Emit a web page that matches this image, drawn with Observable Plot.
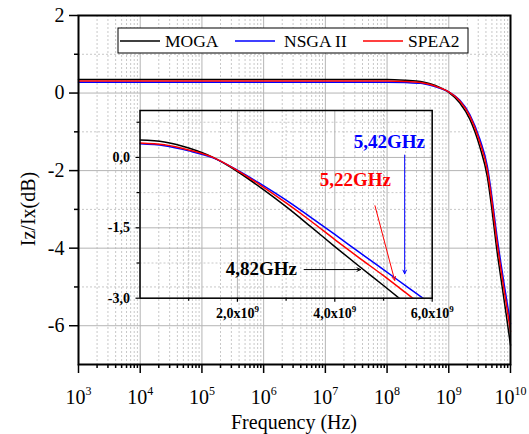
<!DOCTYPE html>
<html><head><meta charset="utf-8">
<script src="https://cdn.jsdelivr.net/npm/d3@7"></script>
<script src="https://cdn.jsdelivr.net/npm/@observablehq/plot@0.6"></script>
<style>
html,body{margin:0;padding:0;background:#fff;}
#wrap{position:relative;width:529px;height:434px;overflow:hidden;background:#fff;}
#wrap svg{position:absolute;overflow:visible;}
</style></head><body><div id="wrap"></div>
<script>
// ---------- data ----------
const seriesNames = ["MOGA", "NSGA II", "SPEA2"];
const seriesColors = ["#000000", "#0000ff", "#ff0000"];

// main chart (log frequency axis)
const freqMain = [1e3, 1e4, 1e5, 1e6, 1e7, 1e8, 2e8, 3.5e8, 5e8, 7e8, 1e9, 1.5e9, 2.2e9, 3.2e9, 4.2e9, 5e9, 5.9e9, 7e9, 8.5e9, 1e10];
const mogaMain = [0.35, 0.35, 0.35, 0.35, 0.35, 0.35, 0.33, 0.30, 0.24, 0.15, 0.02, -0.25, -0.68, -1.40, -2.15, -3.00, -3.95, -4.78, -5.70, -6.50];
const nsgaMain = [0.28, 0.28, 0.28, 0.28, 0.28, 0.28, 0.27, 0.25, 0.20, 0.13, 0.03, -0.18, -0.56, -1.20, -1.88, -2.68, -3.58, -4.40, -5.25, -5.95];
const speaMain = [0.31, 0.31, 0.31, 0.31, 0.31, 0.31, 0.30, 0.27, 0.22, 0.14, 0.03, -0.20, -0.60, -1.28, -1.98, -2.80, -3.72, -4.55, -5.42, -6.15];

// inset (linear frequency axis)
const freqInset = [0, 0.5e9, 1e9, 1.5e9, 2e9, 2.5e9, 3e9, 3.5e9, 4e9, 4.5e9, 5e9, 5.5e9, 6e9];
const mogaInset = [0.37, 0.33, 0.20, 0.00, -0.30, -0.66, -1.05, -1.47, -1.90, -2.32, -2.73, -3.15, -3.57];
const nsgaInset = [0.29, 0.25, 0.14, -0.01, -0.27, -0.58, -0.91, -1.27, -1.64, -2.02, -2.39, -2.77, -3.14];
const speaInset = [0.31, 0.27, 0.16, 0.00, -0.28, -0.61, -0.97, -1.35, -1.75, -2.14, -2.52, -2.92, -3.32];

// ticks
const mainXTicks = [1e3, 1e4, 1e5, 1e6, 1e7, 1e8, 1e9, 1e10];
const mainYTicks = [2, 0, -2, -4, -6];
const mainYMinor = [1, -1, -3, -5];
const insetXTicks = [2e9, 4e9, 6e9];
const insetXMinor = [1e9, 3e9, 5e9];
const insetYTicks = [0, -1.5, -3];
const insetYMinor = [0.75, -0.75, -2.25];

// annotations in the inset (data units)
const annotText = ["5,42GHz", "5,22GHz", "4,82GHz"];
const annotColor = ["#0000ff", "#ff0000", "#000000"];
const annotTextX = [4.39e9, 3.69e9, 1.76e9];
const annotTextY = [0.33, -0.48, -2.37];
const arrowX1 = [5.435e9, 4.825e9, 3.37e9];
const arrowY1 = [0.05, -1.03, -2.39];
const arrowX2 = [5.435e9, 5.23e9, 4.53e9];
const arrowY2 = [-2.48, -2.62, -2.39];

// ---------- build ----------
const serif = "'Liberation Serif','Times New Roman',serif";
const mainXMinor = [];
for (let e = 3; e < 10; e++) for (let k = 2; k <= 9; k++) mainXMinor.push(k * Math.pow(10, e));

const rows = (xs, ys, s) => xs.map((x, i) => ({x, y: ys[i], s}));
const mainData = [
  ...rows(freqMain, mogaMain, seriesNames[0]),
  ...rows(freqMain, nsgaMain, seriesNames[1]),
  ...rows(freqMain, speaMain, seriesNames[2])
];
const insetData = [
  ...rows(freqInset, mogaInset, seriesNames[0]),
  ...rows(freqInset, nsgaInset, seriesNames[1]),
  ...rows(freqInset, speaInset, seriesNames[2])
];
const annots = annotText.map((t, i) => ({t, c: annotColor[i], x: annotTextX[i], y: annotTextY[i]}));
const arrows = arrowX1.map((x1, i) => ({x1, y1: arrowY1[i], x2: arrowX2[i], y2: arrowY2[i], c: annotColor[i]}));

const majorGrid = {stroke: "#b4b4b4", strokeOpacity: 1, strokeWidth: 1};
const minorGrid = {stroke: "#c8c8c8", strokeOpacity: 1, strokeWidth: 1, strokeDasharray: "2,2"};

const main = Plot.plot({
  width: 529, height: 434,
  marginLeft: 78, marginRight: 19, marginTop: 15, marginBottom: 70,
  style: {fontFamily: serif, fontSize: "20px", background: "transparent", color: "#000", overflow: "visible"},
  x: {type: "log", domain: [1e3, 1e10], label: null},
  y: {domain: [-7, 2], label: null},
  color: {domain: seriesNames, range: seriesColors},
  marks: [
    Plot.gridX(mainXMinor, minorGrid),
    Plot.gridY(mainYMinor, minorGrid),
    Plot.gridX(mainXTicks, majorGrid),
    Plot.gridY(mainYTicks, majorGrid),
    Plot.axisX(mainXMinor, {tickSize: 4, strokeWidth: 1.5, tickFormat: () => "", label: null}),
    Plot.axisX(mainXTicks, {tickSize: 9, tickPadding: 16, strokeWidth: 1.5, fontSize: 20, tickFormat: d => "10^" + Math.round(Math.log10(d)), label: null}),
    Plot.axisY(mainYMinor, {tickSize: 4, strokeWidth: 1.5, tickFormat: () => "", label: null}),
    Plot.axisY(mainYTicks, {tickSize: 9, tickPadding: 5, strokeWidth: 1.5, fontSize: 20, tickFormat: d => String(d), label: null}),
    Plot.line(mainData, {x: "x", y: "y", stroke: "s", strokeWidth: 1.5, curve: "monotone-x"}),
    Plot.frame({stroke: "#000", strokeWidth: 2})
  ]
});

const inset = Plot.plot({
  width: 345, height: 225,
  marginLeft: 39.5, marginTop: 10, marginRight: 13.3, marginBottom: 27.3,
  style: {fontFamily: serif, fontSize: "14px", fontWeight: "bold", background: "transparent", color: "#000", overflow: "visible"},
  x: {domain: [0, 6e9], label: null},
  y: {domain: [-3, 1], label: null},
  color: {domain: seriesNames, range: seriesColors},
  marks: [
    Plot.gridX(insetXMinor, minorGrid),
    Plot.gridY(insetYMinor, minorGrid),
    Plot.gridX(insetXTicks, majorGrid),
    Plot.gridY(insetYTicks, majorGrid),
    Plot.axisX(insetXMinor, {tickSize: 3, strokeWidth: 1.2, tickFormat: () => "", label: null}),
    Plot.axisX(insetXTicks, {tickSize: 4, tickPadding: 6, strokeWidth: 1.2, fontSize: 14, fontWeight: "bold", tickFormat: d => (d / 1e9).toFixed(1).replace(".", ",") + "x10^9", label: null}),
    Plot.axisY(insetYMinor, {tickSize: 3, strokeWidth: 1.2, tickFormat: () => "", label: null}),
    Plot.axisY(insetYTicks, {tickSize: 4, tickPadding: 6, strokeWidth: 1.2, fontSize: 14, fontWeight: "bold", tickFormat: d => d.toFixed(1).replace(".", ","), label: null}),
    Plot.line(insetData, {x: "x", y: "y", stroke: "s", strokeWidth: 1.5, curve: "monotone-x", clip: true}),
    Plot.arrow(arrows, {x1: "x1", y1: "y1", x2: "x2", y2: "y2", stroke: "c", strokeWidth: 1, headLength: 6, headAngle: 50}),
    Plot.text(annots, {x: "x", y: "y", text: "t", fill: "c", textAnchor: "start", fontSize: 19, fontWeight: "bold", fontFamily: serif}),
    Plot.frame({stroke: "#000", strokeWidth: 1.5})
  ]
});

// superscripts in tick labels
function supify(svg, fs, dy) {
  d3.select(svg).selectAll("text").each(function () {
    const t = this.textContent;
    if (!t.includes("^")) return;
    const [base, exp] = t.split("^");
    const sel = d3.select(this);
    sel.text(null);
    sel.append("tspan").text(base);
    sel.append("tspan").attr("dy", -dy).attr("font-size", fs).text(exp);
  });
}
supify(main, 12, 9);
supify(inset, 9, 6);

const wrap = document.getElementById("wrap");
main.style.left = "0px"; main.style.top = "0px";
inset.style.left = "100px"; inset.style.top = "100px";
wrap.appendChild(main);
wrap.appendChild(inset);

// axis titles and legend
const svg = d3.select(main);
svg.append("text").attr("x", 294).attr("y", 429).attr("text-anchor", "middle")
  .attr("font-family", serif).attr("font-size", 20).attr("fill", "#000").text("Frequency (Hz)");
svg.append("text").attr("transform", "translate(35,209) rotate(-90)").attr("text-anchor", "middle")
  .attr("font-family", serif).attr("font-size", 20).attr("fill", "#000").text("Iz/Ix(dB)");

const lg = svg.append("g").attr("text-anchor", "start");
lg.append("rect").attr("x", 118).attr("y", 28).attr("width", 350).attr("height", 25)
  .attr("fill", "#fff").attr("stroke", "#000").attr("stroke-width", 1);
const lgLineX = [120, 235, 363];
const lgTextX = [165, 284, 408];
seriesNames.forEach((n, i) => {
  lg.append("line").attr("x1", lgLineX[i]).attr("x2", lgLineX[i] + 40).attr("y1", 41).attr("y2", 41)
    .attr("stroke", seriesColors[i]).attr("stroke-width", 1.5);
  lg.append("text").attr("x", lgTextX[i]).attr("y", 47).attr("text-anchor", "start")
    .attr("font-family", serif).attr("font-size", 17.5).attr("fill", "#000").text(n);
});
</script></body></html>
